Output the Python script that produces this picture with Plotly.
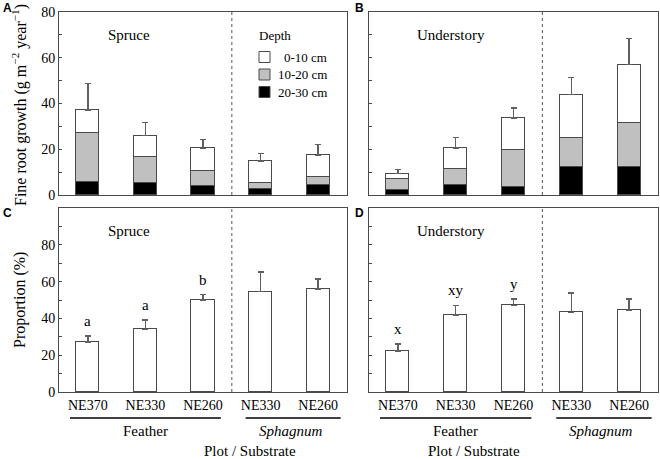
import plotly.graph_objects as go

# ---------------- data ----------------
plots = ["NE370", "NE330", "NE260", "NE330", "NE260"]
xpos = [0, 1, 2, 3, 4]

# Fine root growth (g m-2 year-1), stacked by depth
spruce_0_10 = [9.8, 9.6, 9.8, 9.6, 9.6]
spruce_10_20 = [21.8, 11.2, 6.5, 2.7, 3.5]
spruce_20_30 = [5.5, 5.2, 4.1, 2.5, 4.2]
spruce_se = [11.6, 5.7, 3.9, 3.4, 4.7]

under_0_10 = [2.5, 9.2, 13.9, 19.0, 25.7]
under_10_20 = [4.8, 6.9, 16.5, 12.8, 18.9]
under_20_30 = [2.0, 4.4, 3.3, 12.1, 12.4]
under_se = [1.9, 4.7, 4.4, 7.4, 11.4]

# Proportion (%)
spruce_prop = [27.1, 34.0, 50.0, 54.5, 56.0]
spruce_prop_se = [3.3, 5.1, 2.9, 10.6, 5.5]
spruce_letters = ["a", "a", "b", "", ""]

under_prop = [22.4, 41.8, 47.1, 43.3, 44.5]
under_prop_se = [3.6, 5.3, 3.4, 10.5, 6.0]
under_letters = ["x", "xy", "y", "", ""]

depth_names = ["20-30 cm", "10-20 cm", "0-10 cm"]
depth_colors = ["#000000", "#c0c0c0", "#ffffff"]

# ---------------- styling ----------------
SERIF = "Liberation Serif"
SANS = "Liberation Sans"
LINE = "#4a4a4a"
ERR = "#606060"
W, H = 660, 459

def px_x(a, b):
    return [a / W, b / W]

def px_y(top, bottom):
    return [1 - bottom / H, 1 - top / H]

fig = go.Figure()

def add_stack(layers, se, xa, ya):
    for i, (vals, name, col) in enumerate(zip(layers, depth_names, depth_colors)):
        kw = {}
        if i == 2:
            kw["error_y"] = dict(type="data", array=se, arrayminus=[0] * len(se),
                                 symmetric=False, color=ERR, thickness=1.5, width=3)
        fig.add_trace(go.Bar(x=xpos, y=vals, name=name, marker_color=col,
                             marker_line=dict(color=LINE, width=1), width=0.4,
                             xaxis=xa, yaxis=ya, showlegend=False, **kw))

def add_prop(vals, se, xa, ya):
    fig.add_trace(go.Bar(x=xpos, y=vals, marker_color="#ffffff",
                         marker_line=dict(color=LINE, width=1), width=0.4,
                         error_y=dict(type="data", array=se, arrayminus=[0] * len(se),
                                      symmetric=False, color=ERR, thickness=1.5, width=3),
                         xaxis=xa, yaxis=ya, showlegend=False))

add_stack([spruce_20_30, spruce_10_20, spruce_0_10], spruce_se, "x", "y")
add_stack([under_20_30, under_10_20, under_0_10], under_se, "x2", "y2")
add_prop(spruce_prop, spruce_prop_se, "x3", "y3")
add_prop(under_prop, under_prop_se, "x4", "y4")

dom_xl = px_x(59, 347)
dom_xr = px_x(369, 658)
dom_yt = px_y(12, 195)
dom_yb = px_y(208, 392)

def xax(dom, anchor, labels):
    return dict(domain=dom, anchor=anchor, range=[-0.5, 4.5], showline=True, mirror=True,
                linecolor=LINE, linewidth=1, ticks="", showgrid=False, zeroline=False,
                tickvals=xpos, ticktext=plots, showticklabels=labels, automargin=False,
                tickfont=dict(family=SERIF, size=14, color="#000"))

def yax(dom, anchor, rng, labels):
    vals = list(range(0, rng + 1, 10))
    text = [str(v) if (v % 20 == 0 and v <= 80) else "" for v in vals]
    return dict(domain=dom, anchor=anchor, range=[0, rng], showline=True, mirror=True,
                linecolor=LINE, linewidth=1, ticks="inside", ticklen=3, tickcolor=LINE,
                showgrid=False, zeroline=False, tickvals=vals, ticktext=text,
                showticklabels=labels, automargin=False,
                tickfont=dict(family=SERIF, size=14, color="#000"))

fig.update_layout(
    template="none",
    width=W, height=H, margin=dict(l=0, r=0, t=0, b=0, pad=0),
    plot_bgcolor="white", paper_bgcolor="white", barmode="stack", bargap=0,
    showlegend=False,
    xaxis=xax(dom_xl, "y", False),
    xaxis2=xax(dom_xr, "y2", False),
    xaxis3=xax(dom_xl, "y3", True),
    xaxis4=xax(dom_xr, "y4", True),
    yaxis=yax(dom_yt, "x", 80, True),
    yaxis2=yax(dom_yt, "x2", 80, False),
    yaxis3=yax(dom_yb, "x3", 100, True),
    yaxis4=yax(dom_yb, "x4", 100, False),
)

shapes = []
anns = []
for xa in ["x", "x2", "x3", "x4"]:
    ya = "y" + xa[1:]
    shapes.append(dict(type="line", xref=xa, yref=ya + " domain", x0=2.5, x1=2.5, y0=0, y1=1,
                       line=dict(color="#707070", width=1.2, dash="3px,3px")))

# y-axis titles
anns.append(dict(xref="paper", yref="paper", x=20 / W, y=1 - 105 / H, textangle=-90,
                 text="Fine root growth (g m<sup>−2</sup> year<sup>−1</sup>)", showarrow=False,
                 xanchor="center", yanchor="middle",
                 font=dict(family=SERIF, size=16, color="#000")))
anns.append(dict(xref="paper", yref="paper", x=20 / W, y=1 - 300 / H, textangle=-90,
                 text="Proportion (%)", showarrow=False, xanchor="center", yanchor="middle",
                 font=dict(family=SERIF, size=16, color="#000")))

# legend (drawn inside panel A)
anns.append(dict(xref="paper", yref="paper", x=257 / W, y=1 - 36 / H, text="Depth",
                 showarrow=False, xanchor="left", yanchor="middle",
                 font=dict(family=SERIF, size=13, color="#000")))
for name, col, yc in zip(depth_names[::-1], depth_colors[::-1], [57, 74.5, 92]):
    shapes.append(dict(type="rect", xref="paper", yref="paper", x0=259 / W, x1=270 / W,
                       y0=1 - (yc + 5.5) / H, y1=1 - (yc - 5.5) / H,
                       fillcolor=col, line=dict(color=LINE, width=1)))
    anns.append(dict(xref="paper", yref="paper", x=329 / W, y=1 - yc / H, text=name,
                     showarrow=False, xanchor="right", yanchor="middle",
                     font=dict(family=SERIF, size=13, color="#000")))

# panel titles
for xa, ya, txt, xx, yy in [("x", "y", "Spruce", 0.72, 70), ("x2", "y2", "Understory", 0.91, 70),
                            ("x3", "y3", "Spruce", 0.72, 87.6), ("x4", "y4", "Understory", 0.91, 87.6)]:
    anns.append(dict(xref=xa, yref=ya, x=xx, y=yy, text=txt, showarrow=False,
                     font=dict(family=SERIF, size=15, color="#000")))

# significance letters
for xa, ya, vals, se, letters in [("x3", "y3", spruce_prop, spruce_prop_se, spruce_letters),
                                  ("x4", "y4", under_prop, under_prop_se, under_letters)]:
    for x, v, s, l in zip(xpos, vals, se, letters):
        if l:
            anns.append(dict(xref=xa, yref=ya, x=x, y=v + s, text=l, showarrow=False,
                             yanchor="middle", yshift=15,
                             font=dict(family=SERIF, size=15, color="#000")))

# substrate groupings
for xa, pcx in [("x3", 202), ("x4", 522)]:
    shapes.append(dict(type="line", xref=xa, yref="paper", x0=-0.31, x1=2.31,
                       y0=1 - 418 / H, y1=1 - 418 / H, line=dict(color="#000", width=1.5)))
    shapes.append(dict(type="line", xref=xa, yref="paper", x0=2.74, x1=4.39,
                       y0=1 - 418 / H, y1=1 - 418 / H, line=dict(color="#000", width=1.5)))
    anns.append(dict(xref=xa, yref="paper", x=1, y=1 - 431 / H, text="Feather", showarrow=False,
                     yanchor="middle", font=dict(family=SERIF, size=15, color="#000")))
    anns.append(dict(xref=xa, yref="paper", x=3.52, y=1 - 431 / H, text="<i>Sphagnum</i>",
                     showarrow=False, yanchor="middle",
                     font=dict(family=SERIF, size=15, color="#000")))
    anns.append(dict(xref="paper", yref="paper", x=pcx / W, y=1 - 451 / H, text="Plot / Substrate",
                     showarrow=False, yanchor="middle",
                     font=dict(family=SERIF, size=15, color="#000")))

# panel letters
for t, x, y in [("A", 7, 8), ("B", 359, 8), ("C", 7, 213), ("D", 359, 213)]:
    anns.append(dict(xref="paper", yref="paper", x=x / W, y=1 - y / H, text="<b>%s</b>" % t,
                     showarrow=False, xanchor="center", yanchor="middle",
                     font=dict(family=SANS, size=12, color="#000")))

fig.update_layout(shapes=shapes, annotations=anns)
fig.write_html("out.html", config={"displayModeBar": False},
               post_script="document.body.style.margin='0px';")
